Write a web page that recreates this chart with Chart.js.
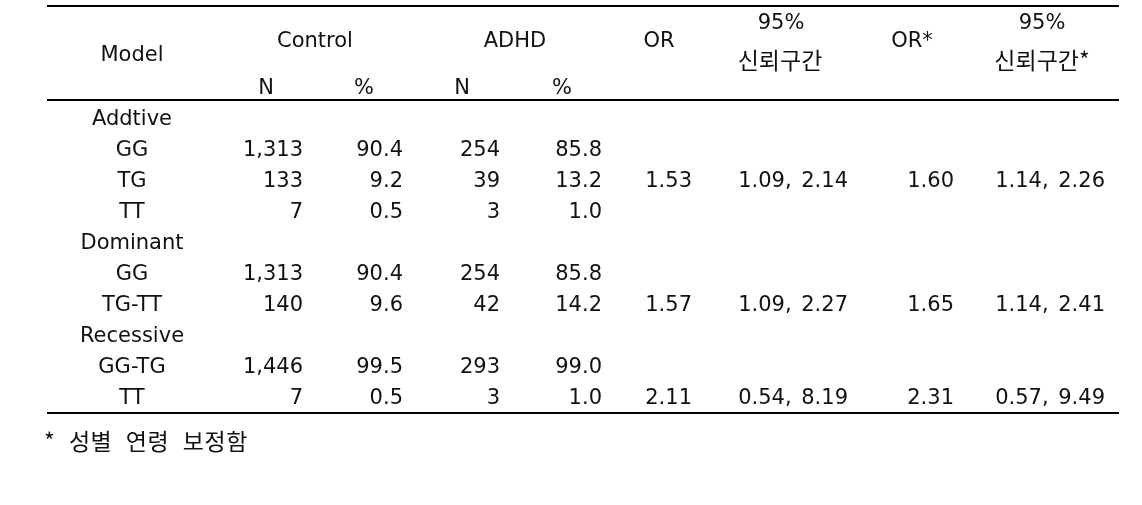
<!DOCTYPE html>
<html>
<head>
<meta charset="utf-8">
<script src="https://cdn.jsdelivr.net/npm/chart.js@4/dist/chart.umd.min.js"></script>
<style>
  html, body { margin: 0; padding: 0; background: #fff; }
  #wrap { position: relative; width: 1142px; height: 505px; }
</style>
</head>
<body>
<div id="wrap"><canvas id="table-chart"></canvas></div>
<script>
// table values
const rowLabels = ["Addtive", "GG", "TG", "TT", "Dominant", "GG", "TG-TT", "Recessive", "GG-TG", "TT"];
const controlN = [null, 1313, 133, 7, null, 1313, 140, null, 1446, 7];
const controlPct = [null, 90.4, 9.2, 0.5, null, 90.4, 9.6, null, 99.5, 0.5];
const adhdN = [null, 254, 39, 3, null, 254, 42, null, 293, 3];
const adhdPct = [null, 85.8, 13.2, 1.0, null, 85.8, 14.2, null, 99.0, 1.0];
const orValues = [null, null, 1.53, null, null, null, 1.57, null, null, 2.11];
const ciLow = [null, null, 1.09, null, null, null, 1.09, null, null, 0.54];
const ciHigh = [null, null, 2.14, null, null, null, 2.27, null, null, 8.19];
const orAdj = [null, null, 1.60, null, null, null, 1.65, null, null, 2.31];
const ciAdjLow = [null, null, 1.14, null, null, null, 1.14, null, null, 0.57];
const ciAdjHigh = [null, null, 2.26, null, null, null, 2.41, null, null, 9.49];
const footnote = "* 성별 연령 보정함";

// layout (pixel units of the hidden scales)
const rowTop = 117.5, rowStep = 31;
const colX = { label: 132, controlN: 303, controlPct: 403, adhdN: 500, adhdPct: 602, or: 692, ci: 848, orAdj: 954, ciAdj: 1105 };
const ruleY = [6, 100, 413];
const ruleX = [47, 1119];

const headerCells = [
  { x: 132, y: 54, text: "Model" },
  { x: 315, y: 40, text: "Control" },
  { x: 515, y: 40, text: "ADHD" },
  { x: 659, y: 40, text: "OR" },
  { x: 781, y: 22, text: "95%" },
  { x: 780, y: 58, text: "신뢰구간" },
  { x: 912, y: 40, text: "OR*" },
  { x: 1042, y: 22, text: "95%" },
  { x: 1042, y: 58, text: "신뢰구간*" },
  { x: 266, y: 87, text: "N" },
  { x: 364, y: 87, text: "%" },
  { x: 462, y: 87, text: "N" },
  { x: 562, y: 87, text: "%" }
];

const fmtN = v => v.toLocaleString("en-US");
const fmt1 = v => v.toFixed(1);
const fmt2 = v => v.toFixed(2);

function column(x, values, fmt) {
  const pts = [];
  values.forEach((v, i) => {
    if (v === null) return;
    pts.push({ x: x, y: rowTop + rowStep * i, text: fmt(v, i) });
  });
  return pts;
}

const ciText = (lo, hi) => (v, i) => fmt2(lo[i]) + ", " + fmt2(hi[i]);

const datasets = [
  { label: "header", data: headerCells, align: "center" },
  { label: "model", data: column(colX.label, rowLabels, v => v), align: "center" },
  { label: "controlN", data: column(colX.controlN, controlN, fmtN), align: "right" },
  { label: "controlPct", data: column(colX.controlPct, controlPct, fmt1), align: "right" },
  { label: "adhdN", data: column(colX.adhdN, adhdN, fmtN), align: "right" },
  { label: "adhdPct", data: column(colX.adhdPct, adhdPct, fmt1), align: "right" },
  { label: "or", data: column(colX.or, orValues, fmt2), align: "right" },
  { label: "ci", data: column(colX.ci, ciLow, ciText(ciLow, ciHigh)), align: "right" },
  { label: "orAdj", data: column(colX.orAdj, orAdj, fmt2), align: "right" },
  { label: "ciAdj", data: column(colX.ciAdj, ciAdjLow, ciText(ciAdjLow, ciAdjHigh)), align: "right" }
].map(d => Object.assign(d, { pointRadius: 0, pointHoverRadius: 0, showLine: false, clip: false }));

const latinFont = '21px "DejaVu Sans", "Noto Sans CJK KR", sans-serif';
const hangulFont = '23px "Noto Sans CJK KR", "DejaVu Sans", sans-serif';
const hasHangul = s => /[\uac00-\ud7a3]/.test(s);
const textShift = 2;

const tablePlugin = {
  id: "tableText",
  afterDatasetsDraw(chart) {
    const ctx = chart.ctx;
    const xs = chart.scales.x, ys = chart.scales.y;
    ctx.save();
    // rules
    ctx.strokeStyle = "#000";
    ctx.lineWidth = 2;
    ruleY.forEach(y => {
      const py = ys.getPixelForValue(y);
      ctx.beginPath();
      ctx.moveTo(xs.getPixelForValue(ruleX[0]), py);
      ctx.lineTo(xs.getPixelForValue(ruleX[1]), py);
      ctx.stroke();
    });
    // cells
    ctx.fillStyle = "#111";
    ctx.textBaseline = "middle";
    ctx.wordSpacing = "3px";
    chart.data.datasets.forEach((ds, di) => {
      const meta = chart.getDatasetMeta(di);
      ctx.textAlign = ds.align;
      meta.data.forEach((el, i) => {
        const t = ds.data[i].text;
        ctx.font = hasHangul(t) ? hangulFont : latinFont;
        ctx.fillText(t, el.x, el.y + textShift);
      });
    });
    // footnote
    ctx.textAlign = "left";
    ctx.font = hangulFont;
    ctx.wordSpacing = "8px";
    ctx.letterSpacing = "0.5px";
    ctx.fillText(footnote, xs.getPixelForValue(44), ys.getPixelForValue(441));
    ctx.restore();
  }
};

let chartStatus = Chart.getChart("table-chart");
if (chartStatus !== undefined) {
  chartStatus.destroy();
}

new Chart(document.getElementById("table-chart").getContext("2d"), {
  type: "scatter",
  data: { datasets: datasets },
  options: {
    animation: false,
    responsive: true,
    maintainAspectRatio: false,
    layout: { padding: 0 },
    events: [],
    plugins: { legend: { display: false }, tooltip: { enabled: false } },
    scales: {
      x: { type: "linear", min: 0, max: 1142, display: false },
      y: { type: "linear", min: 0, max: 505, reverse: true, display: false }
    }
  },
  plugins: [tablePlugin]
});
</script>
</body>
</html>
